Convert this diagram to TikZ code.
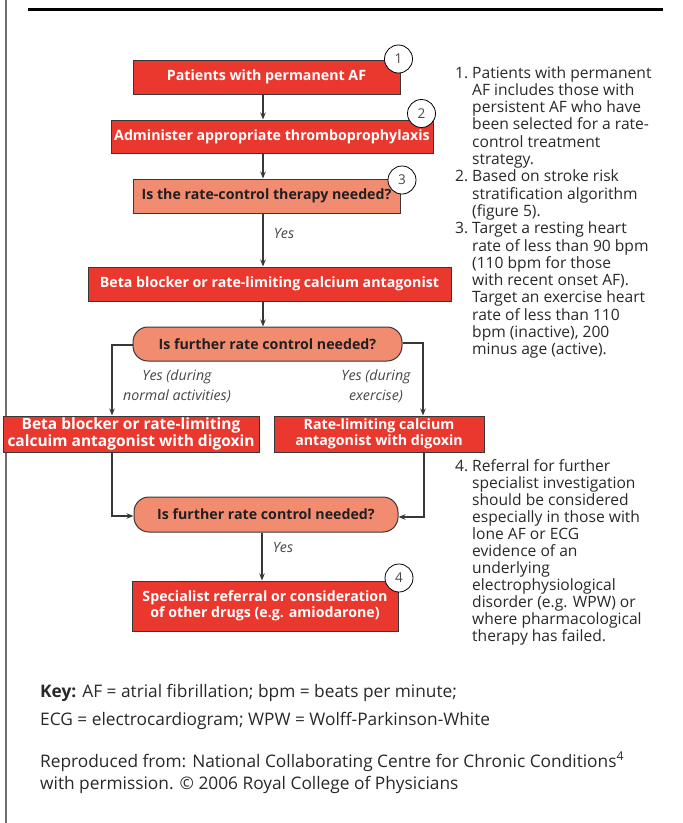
\documentclass[tikz,border=0pt]{standalone}
\usepackage{fontspec}
\setmainfont{Open Sans}
\usetikzlibrary{arrows.meta}
\definecolor{boxred}{RGB}{234,56,47}
\definecolor{boxsalmon}{RGB}{242,140,113}
\definecolor{edgegray}{RGB}{55,55,55}
\definecolor{darktxt}{RGB}{35,31,32}
\definecolor{notetxt}{RGB}{40,40,40}
\definecolor{labtxt}{RGB}{70,70,70}
\definecolor{framegray}{RGB}{110,110,110}
\begin{document}
\begin{tikzpicture}[x=1pt,y=-1pt,
  redbox/.style={draw=edgegray, line width=1pt, fill=boxred, text=white,
    font=\bfseries\fontsize{14.2}{15.8}\selectfont, inner sep=0pt, align=center},
  salbox/.style={draw=edgegray, line width=1pt, fill=boxsalmon, text=darktxt,
    font=\bfseries\fontsize{14.2}{15.8}\selectfont, inner sep=0pt, align=center},
  numcirc/.style={circle, draw=black, line width=0.8pt, fill=white, minimum size=28pt,
    inner sep=0pt, text=labtxt, font=\fontsize{13.5}{13.5}\selectfont},
  conn/.style={draw=edgegray, line width=1.1pt, -{Stealth[length=7pt,width=5.5pt]}},
  yeslab/.style={text=labtxt, font=\itshape\fontsize{14.2}{20.5}\selectfont, inner sep=0pt, align=center},
  notebody/.style={anchor=base west, inner sep=0pt, text=notetxt},
  keytxt/.style={anchor=base west, inner sep=0pt, text=notetxt, font=\fontsize{17.3}{20}\selectfont}
]
\useasboundingbox (0,0) rectangle (683,823);
% frame
\draw[framegray, line width=1.5pt] (6,0) -- (6,823);
\draw[black, line width=3pt] (28,9.5) -- (663,9.5);

% boxes
\node[redbox, minimum width=267pt, minimum height=34pt] (b1) at (266.5,77) {Patients with permanent AF};
\node[redbox, minimum width=322pt, minimum height=33pt] (b2) at (272,136.5) {Administer appropriate thromboprophylaxis};
\node[salbox, minimum width=267pt, minimum height=34pt] (b3) at (266.5,196) {Is the rate-control therapy needed?};
\node[redbox, minimum width=363pt, minimum height=34pt] (b4) at (269.5,284) {Beta blocker or rate-limiting calcium antagonist};
\node[salbox, rounded corners=15pt, minimum width=269pt, minimum height=34pt] (d1) at (267.5,344) {Is further rate control needed?};
\node[redbox, font=\bfseries\fontsize{15.5}{16.2}\selectfont, minimum width=256pt, minimum height=36pt] (b5) at (131,434) {Beta blocker or rate-limiting\\calcuim antagonist with digoxin};
\node[redbox, minimum width=210pt, minimum height=36pt] (b6) at (379,434) {Rate-limiting calcium\\antagonist with digoxin};
\node[salbox, rounded corners=15pt, minimum width=264pt, minimum height=35pt] (d2) at (266,514.5) {Is further rate control needed?};
\node[redbox, minimum width=266pt, minimum height=50pt] (b7) at (265,606) {Specialist referral or consideration\\of other drugs (e.g. amiodarone)};

% number circles
\node[numcirc] (c1) at (398.5,59) {1};
\node[numcirc] (c2) at (421.5,113.5) {2};
\node[numcirc] (c3) at (402,180) {3};
\node[numcirc] (c4) at (399,578) {4};

% connectors
\coordinate (sp) at (263,0);
\draw[conn] (b1.south -| sp) -- (b2.north -| sp);
\draw[conn] (b2.south -| sp) -- (b3.north -| sp);
\draw[conn] (b3.south -| sp) -- (b4.north -| sp);
\draw[conn] (b4.south -| sp) -- (d1.north -| sp);
\coordinate (lx) at (112,345);
\coordinate (rx) at (423,343);
\draw[conn] (d1.west |- lx) -- (lx) -- (b5.north -| lx);
\draw[conn] (d1.east |- rx) -- (rx) -- (b6.north -| rx);
\coordinate (lb) at (112,516);
\coordinate (rb) at (424,517);
\draw[conn] (b5.south -| lb) -- (lb) -- (d2.west |- lb);
\draw[conn] (b6.south -| rb) -- (rb) -- (d2.east |- rb);
\coordinate (sp2) at (262,0);
\draw[conn] (d2.south -| sp2) -- (b7.north -| sp2);

% labels
\node[yeslab] (y1) at (284,233) {Yes};
\node[yeslab] (y2) at (177,386) {Yes (during\\normal activities)};
\node[yeslab] (y3) at (376,386) {Yes (during\\exercise)};
\node[yeslab] (y4) at (283,547) {Yes};

% notes
\def\notefont{\fontsize{15.6}{17.3}\selectfont}
\node[notebody, font=\notefont] (n1num) at (455,78) {1.};
\node[notebody] (n1) at (472,78) {\parbox[t]{215pt}{\notefont\raggedright
Patients with permanent\\AF includes those with\\persistent AF who have\\been selected for a rate-\\control treatment\\strategy.}};
\node[notebody, font=\notefont] (n2num) at (455,181.8) {2.};
\node[notebody] (n2) at (472,181.8) {\parbox[t]{215pt}{\notefont\raggedright
Based on stroke risk\\stratification algorithm\\(figure 5).}};
\node[notebody, font=\notefont] (n3num) at (455,233.7) {3.};
\node[notebody] (n3) at (472,233.7) {\parbox[t]{215pt}{\notefont\raggedright
Target a resting heart\\rate of less than 90 bpm\\(110 bpm for those\\with recent onset AF).\\Target an exercise heart\\rate of less than 110\\bpm (inactive), 200\\minus age (active).}};
\node[notebody, font=\notefont] (n4num) at (455,471) {4.};
\node[notebody] (n4) at (472,471) {\parbox[t]{215pt}{\fontsize{15.6}{17}\selectfont\raggedright
Referral for further\\specialist investigation\\should be considered\\especially in those with\\lone AF or ECG\\evidence of an\\underlying\\electrophysiological\\disorder (e.g. WPW) or\\where pharmacological\\therapy has failed.}};

% key
\node[keytxt] (k1) at (40,697) {\textbf{Key:} AF = atrial fibrillation; bpm = beats per minute;};
\node[keytxt] (k2) at (40,725) {ECG = electrocardiogram; WPW = Wolff-Parkinson-White};
\node[keytxt] (k3) at (40,767) {Reproduced from: National Collaborating Centre for Chronic Conditions\textsuperscript{4}};
\node[keytxt] (k4) at (40,789) {with permission. \textcopyright{} 2006 Royal College of Physicians};
\end{tikzpicture}
\end{document}
